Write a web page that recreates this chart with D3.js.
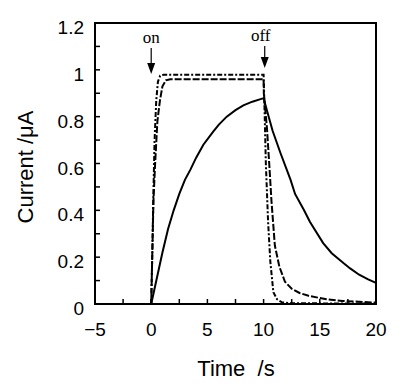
<!DOCTYPE html>
<html lang="en">
<head>
<meta charset="UTF-8" />
<title>Current vs time</title>
<script src="https://d3js.org/d3.v7.min.js"></script>
<style>
    body { margin: 0; background: #fff; }
    svg { display: block; }
    .tick-label { font-family: "Liberation Sans", Arial, sans-serif; font-size: 19px; fill: #000; }
    .axis-title { font-family: "Liberation Sans", Arial, sans-serif; font-size: 22px; fill: #000; }
    .note { font-family: "Liberation Serif", "Times New Roman", serif; font-size: 17px; fill: #000; }
    .curve { fill: none; stroke: #000; stroke-width: 2px; }
</style>
</head>
<body>
<svg width="417" height="387"></svg>
<script>
    // data
    const xTicks = [-5, 0, 5, 10, 15, 20];
    const yTicks = [0, 0.2, 0.4, 0.6, 0.8, 1, 1.2];

    const slowCurve = [
        [0, 0], [0.5, 0.11], [1, 0.22], [1.5, 0.32], [2, 0.40], [2.5, 0.47], [3, 0.53],
        [3.5, 0.575], [4, 0.625], [4.64, 0.68], [5.5, 0.735], [6, 0.765], [6.72, 0.80],
        [7.5, 0.828], [8.2, 0.848], [9, 0.864], [10, 0.879],
        [10.28, 0.83], [10.8, 0.74], [11.5, 0.645], [12.4, 0.53], [12.8, 0.47], [13.6, 0.40],
        [14.13, 0.35], [15.3, 0.26], [16.06, 0.217], [17.1, 0.175], [17.7, 0.152],
        [18.5, 0.125], [19.3, 0.105], [20, 0.09]
    ];
    const dashedCurve = [
        [0, 0], [0.1, 0.22], [0.2, 0.44], [0.35, 0.6], [0.55, 0.78], [0.78, 0.87], [1.0, 0.93],
        [1.3, 0.955], [1.7, 0.96], [10, 0.96],
        [10.02, 0.9], [10.3, 0.75], [10.5, 0.6], [10.7, 0.44], [11, 0.25], [11.4, 0.16],
        [11.9, 0.095], [12.5, 0.065], [13.2, 0.047], [14, 0.035], [15.6, 0.02], [17, 0.013],
        [20, 0.006]
    ];
    const dashDotCurve = [
        [0, 0], [0.1, 0.22], [0.19, 0.46], [0.3, 0.7], [0.45, 0.87], [0.6, 0.95], [0.8, 0.975],
        [1.1, 0.979], [10, 0.979],
        [10.1, 0.8], [10.2, 0.6], [10.4, 0.35], [10.6, 0.18], [10.87, 0.05], [11.2, 0.02],
        [11.6, 0.008], [12.5, 0.003], [20, 0.002]
    ];
    const notes = [{ text: "on", t: 0 }, { text: "off", t: 10.1 }];

    const svg = d3.select("svg");
    const plotLeft = 95, plotRight = 376, plotTop = 23, plotBottom = 304;

    const x = d3.scaleLinear().domain([-5, 20]).range([plotLeft, plotRight]);
    const y = d3.scaleLinear().domain([0, 1.2]).range([plotBottom, plotTop]);

    const line = d3.line().x(d => x(d[0])).y(d => y(d[1]));

    svg.append("path").datum(slowCurve).attr("class", "curve").attr("d", line);
    svg.append("path").datum(dashedCurve).attr("class", "curve")
        .attr("stroke-dasharray", "7,2").attr("d", line);
    svg.append("path").datum(dashDotCurve).attr("class", "curve")
        .attr("stroke-width", 1.8).attr("stroke-dasharray", "5,2,2,2").attr("d", line);

    // inner ticks
    const xMinor = d3.range(-5, 20.01, 2.5);
    const yMinor = d3.range(0, 1.201, 0.1);
    svg.append("g").selectAll("line").data(xMinor).join("line")
        .attr("x1", d => x(d)).attr("x2", d => x(d))
        .attr("y1", plotBottom).attr("y2", plotBottom - 5)
        .attr("stroke", "#000").attr("stroke-width", 1.5);
    svg.append("g").selectAll("line").data(yMinor).join("line")
        .attr("x1", plotLeft).attr("x2", plotLeft + 5)
        .attr("y1", d => y(d)).attr("y2", d => y(d))
        .attr("stroke", "#000").attr("stroke-width", 1.5);

    // frame
    svg.append("rect").attr("x", plotLeft).attr("y", plotTop)
        .attr("width", plotRight - plotLeft).attr("height", plotBottom - plotTop)
        .attr("fill", "none").attr("stroke", "#000").attr("stroke-width", 2);

    // tick labels
    svg.append("g").selectAll("text").data(xTicks).join("text")
        .attr("class", "tick-label")
        .attr("x", d => x(d)).attr("y", 336)
        .attr("text-anchor", "middle")
        .text(d => d < 0 ? "\u2212" + Math.abs(d) : d);
    svg.append("g").selectAll("text").data(yTicks).join("text")
        .attr("class", "tick-label")
        .attr("x", 84).attr("y", d => y(d) + 11)
        .attr("text-anchor", "end")
        .text(d => d);

    // axis titles
    svg.append("text").attr("class", "axis-title")
        .attr("x", 236).attr("y", 376).attr("text-anchor", "middle")
        .attr("xml:space", "preserve")
        .text("Time  /s");
    svg.append("text").attr("class", "axis-title")
        .attr("transform", "translate(33,167) rotate(-90)")
        .attr("text-anchor", "middle")
        .text("Current /\u03bcA");

    // on / off arrows
    const noteG = svg.append("g").selectAll("g").data(notes).join("g")
        .attr("transform", d => `translate(${x(d.t)},0)`);
    noteG.append("text").attr("class", "note")
        .attr("x", (d, i) => i === 0 ? 0 : -4).attr("y", (d, i) => i === 0 ? 43 : 41)
        .attr("text-anchor", "middle").text(d => d.text);
    noteG.append("line").attr("x1", 0).attr("x2", 0)
        .attr("y1", (d, i) => i === 0 ? 48 : 46).attr("y2", (d, i) => i === 0 ? 64 : 58)
        .attr("stroke", "#000").attr("stroke-width", 1.2);
    noteG.append("path")
        .attr("d", (d, i) => {
            const t0 = i === 0 ? 63 : 57, t1 = i === 0 ? 74 : 68;
            return `M-4,${t0}L4,${t0}L0,${t1}Z`;
        })
        .attr("fill", "#000");
</script>
</body>
</html>
